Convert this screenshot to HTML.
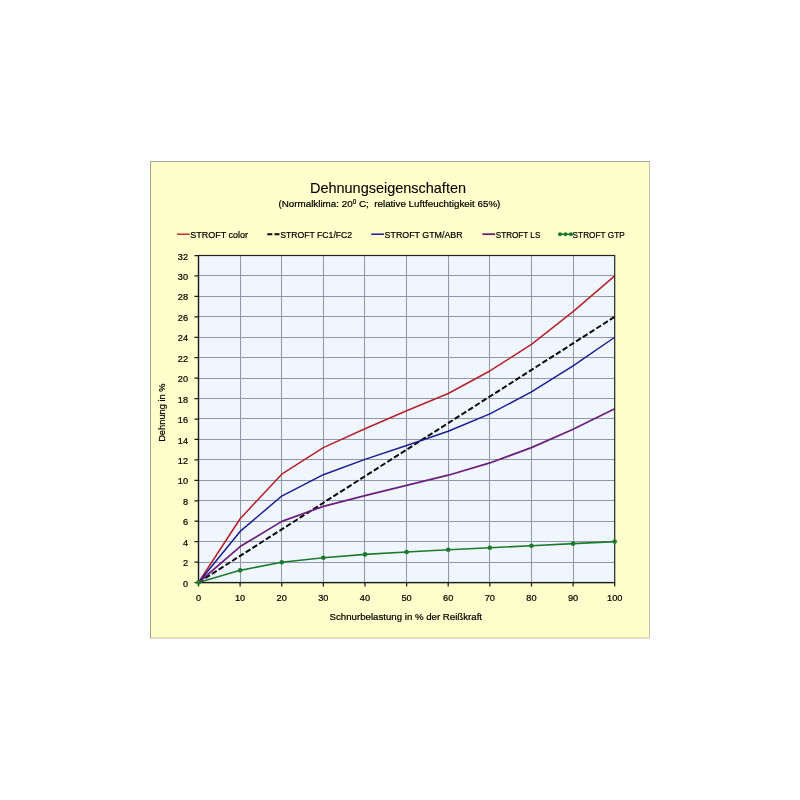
<!DOCTYPE html>
<html lang="de"><head><meta charset="utf-8"><title>Dehnungseigenschaften</title>
<style>html,body{margin:0;padding:0;background:#fff;}body{width:800px;height:800px;overflow:hidden;}svg{display:block;}text{font-family:"Liberation Sans",sans-serif;fill:#000;stroke:#000;stroke-width:0.22px;}</style>
</head><body>
<svg width="800" height="800" viewBox="0 0 800 800">
<rect x="0" y="0" width="800" height="800" fill="#ffffff"/>
<rect x="150" y="161" width="500" height="477.5" fill="#ffffcc"/>
<path d="M150.5 638.5V161.5H650" fill="none" stroke="#a2a290" stroke-width="1"/>
<path d="M649.5 162V638H151" fill="none" stroke="#c4c4ac" stroke-width="1"/>
<rect x="198.5" y="255.5" width="416.2" height="327.0" fill="#eff6fe"/>
<path d="M240.50 255.5V582.5M281.50 255.5V582.5M323.50 255.5V582.5M364.50 255.5V582.5M406.50 255.5V582.5M448.50 255.5V582.5M489.50 255.5V582.5M531.50 255.5V582.5M573.50 255.5V582.5M198.5 562.50H614.7M198.5 541.50H614.7M198.5 521.50H614.7M198.5 500.50H614.7M198.5 480.50H614.7M198.5 459.50H614.7M198.5 439.50H614.7M198.5 418.50H614.7M198.5 398.50H614.7M198.5 378.50H614.7M198.5 357.50H614.7M198.5 337.50H614.7M198.5 316.50H614.7M198.5 296.50H614.7M198.5 275.50H614.7" stroke="#8e98aa" stroke-width="1" fill="none"/>
<polyline points="198.50,582.50 240.12,518.74 281.74,474.18 323.36,447.61 364.98,428.71 406.60,410.82 448.22,393.45 489.84,370.97 531.46,344.40 573.08,311.70 614.70,275.94" fill="none" stroke="#b5222a" stroke-width="1.55" stroke-linejoin="round" />
<polyline points="198.50,582.50 240.12,555.93 281.74,529.36 323.36,502.79 364.98,476.23 406.60,449.66 448.22,423.09 489.84,396.52 531.46,369.95 573.08,343.38 614.70,316.81" fill="none" stroke="#0a0a0a" stroke-width="2.0" stroke-linejoin="round" stroke-dasharray="5.6 2.4"/>
<polyline points="198.50,582.50 240.12,531.41 281.74,496.05 323.36,474.69 364.98,459.36 406.60,445.57 448.22,431.26 489.84,413.89 531.46,391.92 573.08,365.86 614.70,337.25" fill="none" stroke="#1b1b8e" stroke-width="1.5" stroke-linejoin="round" />
<polyline points="198.50,582.50 240.12,546.53 281.74,521.39 323.36,506.37 364.98,495.64 406.60,485.42 448.22,475.20 489.84,462.94 531.46,447.61 573.08,429.22 614.70,408.78" fill="none" stroke="#6c1f7a" stroke-width="1.7" stroke-linejoin="round" />
<polyline points="198.50,582.50 240.12,570.34 281.74,562.27 323.36,557.77 364.98,554.40 406.60,552.05 448.22,549.80 489.84,547.76 531.46,545.71 573.08,543.67 614.70,541.62" fill="none" stroke="#1d7a2c" stroke-width="1.6" stroke-linejoin="round" />
<rect x="198.5" y="255.5" width="416.2" height="327.0" fill="none" stroke="#222" stroke-width="1.2"/>
<path d="M198.50 582.5v4M240.12 582.5v4M281.74 582.5v4M323.36 582.5v4M364.98 582.5v4M406.60 582.5v4M448.22 582.5v4M489.84 582.5v4M531.46 582.5v4M573.08 582.5v4M614.70 582.5v4M198.5 582.50h-4M198.5 562.06h-4M198.5 541.62h-4M198.5 521.19h-4M198.5 500.75h-4M198.5 480.31h-4M198.5 459.88h-4M198.5 439.44h-4M198.5 419.00h-4M198.5 398.56h-4M198.5 378.12h-4M198.5 357.69h-4M198.5 337.25h-4M198.5 316.81h-4M198.5 296.38h-4M198.5 275.94h-4M198.5 255.50h-4M198.5 254.9V583.1M197.9 582.5H615.3000000000001" stroke="#1a1a1a" stroke-width="1.25" fill="none"/>
<circle cx="198.50" cy="582.50" r="2.3" fill="#1d7a2c"/>
<circle cx="240.12" cy="570.34" r="2.3" fill="#1d7a2c"/>
<circle cx="281.74" cy="562.27" r="2.3" fill="#1d7a2c"/>
<circle cx="323.36" cy="557.77" r="2.3" fill="#1d7a2c"/>
<circle cx="364.98" cy="554.40" r="2.3" fill="#1d7a2c"/>
<circle cx="406.60" cy="552.05" r="2.3" fill="#1d7a2c"/>
<circle cx="448.22" cy="549.80" r="2.3" fill="#1d7a2c"/>
<circle cx="489.84" cy="547.76" r="2.3" fill="#1d7a2c"/>
<circle cx="531.46" cy="545.71" r="2.3" fill="#1d7a2c"/>
<circle cx="573.08" cy="543.67" r="2.3" fill="#1d7a2c"/>
<circle cx="614.70" cy="541.62" r="2.3" fill="#1d7a2c"/>
<text x="188" y="586.60" font-size="9.2" text-anchor="end">0</text>
<text x="188" y="566.16" font-size="9.2" text-anchor="end">2</text>
<text x="188" y="545.73" font-size="9.2" text-anchor="end">4</text>
<text x="188" y="525.29" font-size="9.2" text-anchor="end">6</text>
<text x="188" y="504.85" font-size="9.2" text-anchor="end">8</text>
<text x="188" y="484.41" font-size="9.2" text-anchor="end">10</text>
<text x="188" y="463.98" font-size="9.2" text-anchor="end">12</text>
<text x="188" y="443.54" font-size="9.2" text-anchor="end">14</text>
<text x="188" y="423.10" font-size="9.2" text-anchor="end">16</text>
<text x="188" y="402.66" font-size="9.2" text-anchor="end">18</text>
<text x="188" y="382.23" font-size="9.2" text-anchor="end">20</text>
<text x="188" y="361.79" font-size="9.2" text-anchor="end">22</text>
<text x="188" y="341.35" font-size="9.2" text-anchor="end">24</text>
<text x="188" y="320.91" font-size="9.2" text-anchor="end">26</text>
<text x="188" y="300.48" font-size="9.2" text-anchor="end">28</text>
<text x="188" y="280.04" font-size="9.2" text-anchor="end">30</text>
<text x="188" y="259.60" font-size="9.2" text-anchor="end">32</text>
<text x="198.50" y="600.6" font-size="9.2" text-anchor="middle">0</text>
<text x="240.12" y="600.6" font-size="9.2" text-anchor="middle">10</text>
<text x="281.74" y="600.6" font-size="9.2" text-anchor="middle">20</text>
<text x="323.36" y="600.6" font-size="9.2" text-anchor="middle">30</text>
<text x="364.98" y="600.6" font-size="9.2" text-anchor="middle">40</text>
<text x="406.60" y="600.6" font-size="9.2" text-anchor="middle">50</text>
<text x="448.22" y="600.6" font-size="9.2" text-anchor="middle">60</text>
<text x="489.84" y="600.6" font-size="9.2" text-anchor="middle">70</text>
<text x="531.46" y="600.6" font-size="9.2" text-anchor="middle">80</text>
<text x="573.08" y="600.6" font-size="9.2" text-anchor="middle">90</text>
<text x="614.70" y="600.6" font-size="9.2" text-anchor="middle">100</text>
<text x="388" y="193" font-size="14.6" style="stroke-width:0.1px" text-anchor="middle" textLength="156" lengthAdjust="spacingAndGlyphs">Dehnungseigenschaften</text>
<text x="389.4" y="206.9" font-size="9.9" text-anchor="middle" textLength="222" lengthAdjust="spacingAndGlyphs" xml:space="preserve" style="white-space:pre">(Normalklima: 20<tspan font-size="6.4" dy="-3.4">0</tspan><tspan dy="3.4"> C;  relative Luftfeuchtigkeit 65%)</tspan></text>
<text x="405.8" y="619.6" font-size="9.2" text-anchor="middle" textLength="152.5" lengthAdjust="spacingAndGlyphs">Schnurbelastung in % der Reißkraft</text>
<text transform="translate(164.9 412.6) rotate(-90)" font-size="9.6" text-anchor="middle" textLength="58.5" lengthAdjust="spacingAndGlyphs">Dehnung in %</text>
<path d="M177 234.2H189.8" stroke="#b5222a" stroke-width="1.4"/>
<text x="190.3" y="238.3" font-size="9.2" textLength="57.8" lengthAdjust="spacingAndGlyphs">STROFT color</text>
<path d="M267.3 234.2H279.5" stroke="#0a0a0a" stroke-width="2" stroke-dasharray="5 2.2"/>
<text x="280.2" y="238.3" font-size="9.2" textLength="72" lengthAdjust="spacingAndGlyphs">STROFT FC1/FC2</text>
<path d="M371.2 234.2H384" stroke="#1b1b8e" stroke-width="1.5"/>
<text x="384.6" y="238.3" font-size="9.2" textLength="78" lengthAdjust="spacingAndGlyphs">STROFT GTM/ABR</text>
<path d="M482.4 234.2H495.2" stroke="#6c1f7a" stroke-width="1.8"/>
<text x="495.8" y="238.3" font-size="9.2" textLength="44.5" lengthAdjust="spacingAndGlyphs">STROFT LS</text>
<path d="M559.5 234.2H571.5" stroke="#1d7a2c" stroke-width="1.6"/>
<circle cx="560" cy="234.2" r="2" fill="#1d7a2c"/>
<circle cx="565.5" cy="234.2" r="2" fill="#1d7a2c"/>
<circle cx="571" cy="234.2" r="2" fill="#1d7a2c"/>
<text x="572.6" y="238.3" font-size="9.2" textLength="52.2" lengthAdjust="spacingAndGlyphs">STROFT GTP</text>
</svg>
</body></html>
